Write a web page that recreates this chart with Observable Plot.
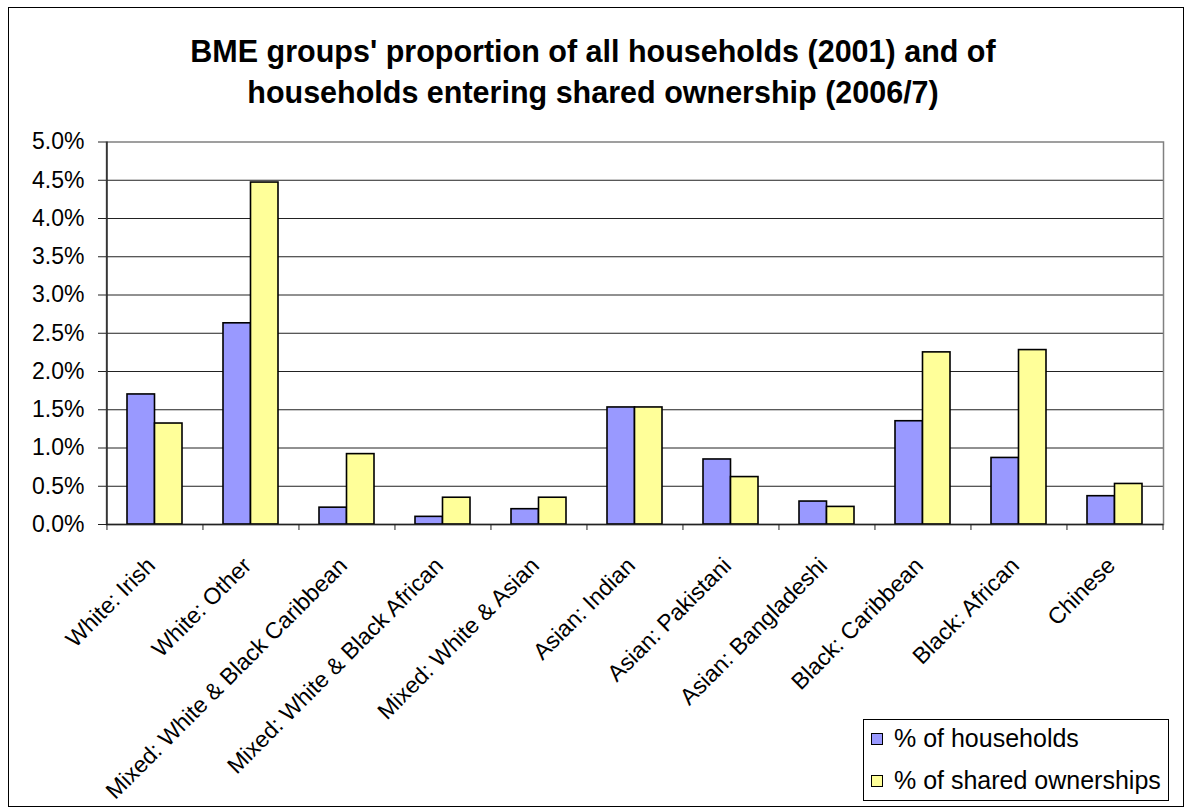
<!DOCTYPE html>
<html>
<head>
<meta charset="utf-8">
<script src="https://cdn.jsdelivr.net/npm/d3@7"></script>
<script src="https://cdn.jsdelivr.net/npm/@observablehq/plot@0.6"></script>
<style>
  html, body { margin: 0; padding: 0; background: #fff; }
  #wrap { position: relative; width: 1186px; height: 807px; font-family: "Liberation Sans", Arial, sans-serif; overflow: hidden; }
  #border { position: absolute; left: 8px; top: 7px; width: 1174px; height: 798px; border: 1px solid #000; box-sizing: content-box; }
  #title { position: absolute; left: 0; top: 31px; width: 1186px; text-align: center; font-weight: bold; font-size: 30.5px; line-height: 41px; color: #000; }
  #chart { position: absolute; left: 0; top: 0; }
  #legend { position: absolute; left: 863px; top: 719px; width: 304px; height: 80px; border: 1px solid #000; background: #fff; font-size: 25px; color: #000; }
  .item { position: absolute; left: 7px; display: flex; align-items: center; line-height: 29px; white-space: nowrap; }
  .sw { width: 10px; height: 10px; border: 1.5px solid #000; margin-right: 11px; }
</style>
</head>
<body>
<div id="wrap">
  <div id="border"></div>
  <div id="title"></div>
  <div id="chart"></div>
  <div id="legend"></div>
</div>
<script>
const titleLines = ["BME groups' proportion of all households (2001) and of", "households entering shared ownership (2006/7)"];
const categories = ["White: Irish", "White: Other", "Mixed: White & Black Caribbean", "Mixed: White & Black African", "Mixed: White & Asian", "Asian: Indian", "Asian: Pakistani", "Asian: Bangladeshi", "Black: Caribbean", "Black: African", "Chinese"];
const seriesNames = ["% of households", "% of shared ownerships"];
const households = [1.70, 2.63, 0.22, 0.10, 0.20, 1.53, 0.85, 0.30, 1.35, 0.87, 0.37];
const sharedOwnerships = [1.32, 4.47, 0.92, 0.35, 0.35, 1.53, 0.62, 0.23, 2.25, 2.28, 0.53];
const yTicks = [0, 0.5, 1.0, 1.5, 2.0, 2.5, 3.0, 3.5, 4.0, 4.5, 5.0];
const colors = ["#9999FF", "#FFFF99"];

document.getElementById("title").innerHTML = titleLines.join("<br>");

const data = [];
categories.forEach((c, i) => {
  data.push({category: c, series: seriesNames[0], value: households[i]});
  data.push({category: c, series: seriesNames[1], value: sharedOwnerships[i]});
});

const W = 1186, H = 807;
const mL = 106, mR = 23, mT = 141.5, mB = 283;
const step = (W - mL - mR) / categories.length;
const pad = 0.4276;
const half = step * (1 - pad) / 2;

const chart = Plot.plot({
  width: W,
  height: H,
  marginLeft: mL,
  marginRight: mR,
  marginTop: mT,
  marginBottom: mB,
  style: {fontFamily: "'Liberation Sans', Arial, sans-serif", background: "transparent", color: "#000"},
  x: {domain: categories, paddingInner: pad, paddingOuter: pad / 2, axis: null, label: null},
  y: {domain: [0, 5], axis: null, label: null},
  color: {domain: seriesNames, range: colors},
  marks: [
    Plot.gridY(yTicks.slice(1, -1), {stroke: "#222", strokeOpacity: 1, strokeWidth: 1}),
    Plot.frame({stroke: "#808080", strokeWidth: 1.5}),
    Plot.barY(data.filter(d => d.series === seriesNames[0]), {x: "category", y: "value", fill: "series", stroke: "#000", strokeWidth: 1.6, insetRight: half}),
    Plot.barY(data.filter(d => d.series === seriesNames[1]), {x: "category", y: "value", fill: "series", stroke: "#000", strokeWidth: 1.6, insetLeft: half}),
    Plot.ruleY([0], {stroke: "#222", strokeWidth: 1.5}),
    Plot.ruleX([categories[0]], {y1: 0, y2: 5, dx: -step / 2, stroke: "#222", strokeWidth: 1.5}),
    Plot.axisY({ticks: yTicks, tickFormat: d => d.toFixed(1) + "%", tickSize: 8, tickPadding: 14, fontSize: 23, label: null, stroke: "#222"}),
    Plot.axisX({ticks: categories, tickSize: 6, text: null, label: null, dx: -step / 2, stroke: "#222"}),
    Plot.axisX({ticks: [categories[categories.length - 1]], tickSize: 6, text: null, label: null, dx: step / 2, stroke: "#222"}),
    Plot.text(categories, {x: d => d, frameAnchor: "bottom", text: d => d, rotate: -45, textAnchor: "end", lineAnchor: "top", dx: -10, dy: 31, fontSize: 23, fill: "#000"})
  ]
});
document.getElementById("chart").appendChild(chart);

const legend = document.getElementById("legend");
seriesNames.forEach((s, i) => {
  const item = document.createElement("div");
  item.className = "item";
  item.style.top = (i === 0 ? 4 : 46) + "px";
  const sw = document.createElement("span");
  sw.className = "sw";
  sw.style.background = colors[i];
  const t = document.createElement("span");
  t.textContent = s;
  item.appendChild(sw);
  item.appendChild(t);
  legend.appendChild(item);
});
</script>
</body>
</html>
